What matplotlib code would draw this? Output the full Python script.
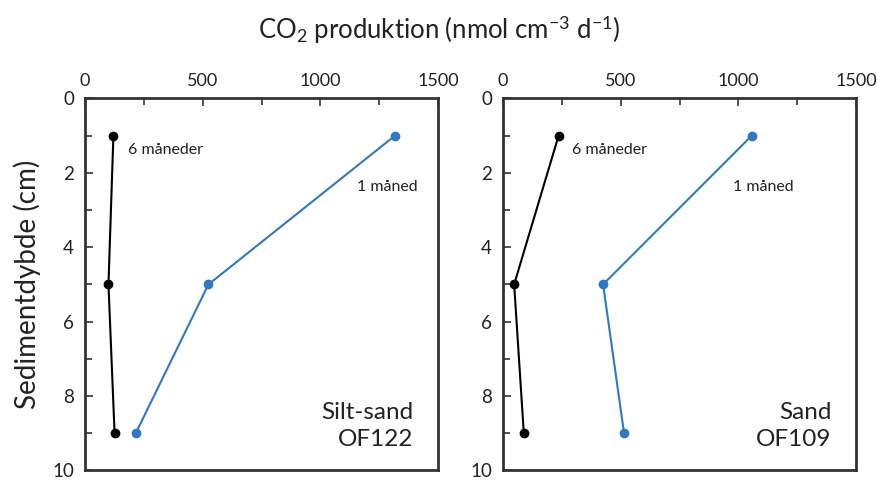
import matplotlib.pyplot as plt
from matplotlib.ticker import MultipleLocator

plt.rcParams['font.family'] = ['Lato', 'DejaVu Sans']
plt.rcParams['mathtext.fontset'] = 'custom'
plt.rcParams['mathtext.rm'] = 'Lato'
plt.rcParams['mathtext.it'] = 'Lato:italic'
plt.rcParams['mathtext.bf'] = 'Lato:bold'

# dybder (cm)
dybde = [1, 5, 9]

# Silt-sand OF122
silt_6mdr = [120, 99, 125]
silt_1md = [1317, 524, 215]

# Sand OF109
sand_6mdr = [236, 47, 88]
sand_1md = [1057, 425, 514]

paneler = [
    ("Silt-sand\nOF122", silt_6mdr, silt_1md, (183, 1.38), (1155, 2.38)),
    ("Sand\nOF109", sand_6mdr, sand_1md, (294, 1.38), (976, 2.38)),
]

blaa = "#2f78c4"
kant = "#333333"
tekst = "#222222"

fig = plt.figure(figsize=(8.78, 4.8), dpi=100)
pos = [[0.097, 0.02, 0.402, 0.775], [0.573, 0.02, 0.402, 0.775]]

for i, (navn, sort, blaa_vals, pos6, pos1) in enumerate(paneler):
    ax = fig.add_axes(pos[i])
    ax.plot(sort, dybde, color="black", lw=1.5, marker="o", ms=6)
    ax.plot(blaa_vals, dybde, color=blaa, lw=1.5, marker="o", ms=6)

    ax.set_xlim(0, 1500)
    ax.set_ylim(10, 0)
    ax.xaxis.tick_top()
    ax.xaxis.set_major_locator(MultipleLocator(500))
    ax.xaxis.set_minor_locator(MultipleLocator(250))
    ax.yaxis.set_major_locator(MultipleLocator(2))
    ax.yaxis.set_minor_locator(MultipleLocator(1))
    ax.tick_params(axis="x", which="both", direction="in", top=True, bottom=False,
                   labelsize=13, pad=7, colors=kant, labelcolor=tekst)
    ax.tick_params(axis="y", which="both", direction="in", left=True, right=False,
                   labelsize=13.5, pad=8, colors=kant, labelcolor=tekst)
    ax.tick_params(which="major", length=6, width=1.2)
    ax.tick_params(which="minor", length=5, width=1.2)
    for s in ax.spines.values():
        s.set_color(kant)
        s.set_linewidth(2)

    ax.text(pos6[0], pos6[1], "6 måneder", fontsize=11.5, color=tekst, va="center")
    ax.text(pos1[0], pos1[1], "1 måned", fontsize=11.5, color=tekst, va="center")
    ax.text(1395, 8.8, navn, fontsize=17.5, ha="right", va="center",
            linespacing=1.35, color=tekst)

    if i == 0:
        ax.set_ylabel("Sedimentdybde (cm)", fontsize=20, color=tekst, labelpad=8)

fig.text(0.5, 0.937, r"CO$_2$ produktion (nmol cm$^{-3}$ d$^{-1}$)", ha="center",
         va="center", fontsize=18.5, color=tekst)

plt.savefig("out.png", dpi=100)
